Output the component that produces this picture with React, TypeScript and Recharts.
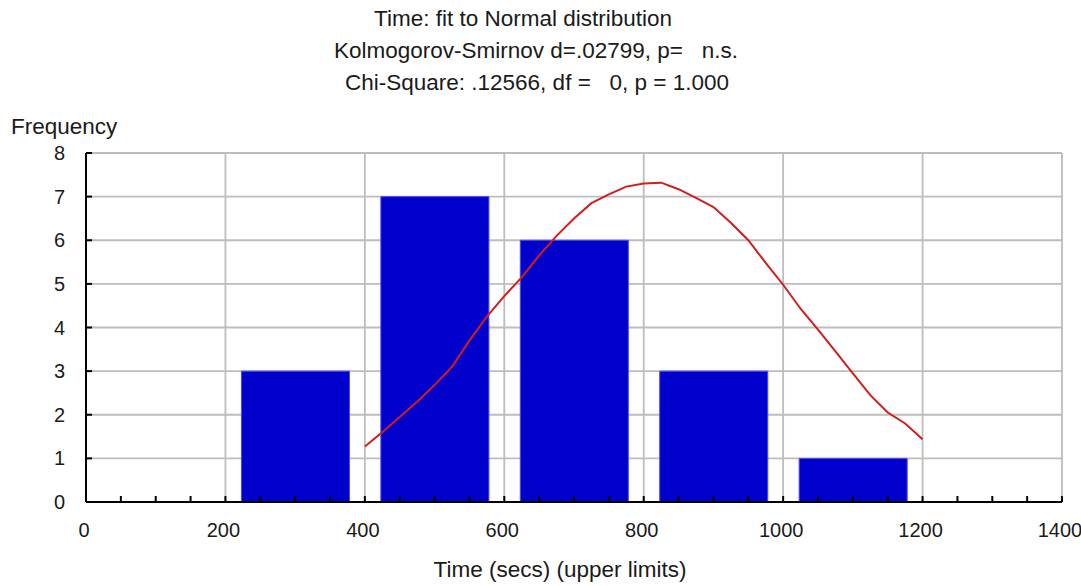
import {
  ComposedChart,
  Bar,
  Line,
  XAxis,
  YAxis,
  CartesianGrid,
} from 'recharts';

// histogram bins (centres of 200-sec classes) and counts
const binCenters = [300, 500, 700, 900, 1100];
const frequency = [3, 7, 6, 3, 1];

// fitted normal curve
const fitX = [
  400, 425, 450, 475, 500, 525, 550, 575, 600, 625, 650, 675, 700, 725, 750, 775, 800,
  825, 850, 875, 900, 925, 950, 975, 1000, 1025, 1050, 1075, 1100, 1125, 1150, 1175, 1200,
];
const fitY = [
  1.27, 1.6, 1.95, 2.3, 2.68, 3.1, 3.7, 4.25, 4.72, 5.15, 5.65, 6.1, 6.5, 6.85, 7.05, 7.23, 7.3,
  7.32, 7.17, 6.97, 6.76, 6.4, 6.0, 5.48, 4.98, 4.43, 3.95, 3.45, 2.95, 2.45, 2.05, 1.8, 1.44,
];

const xTicks = [
  0, 50, 100, 150, 200, 250, 300, 350, 400, 450, 500, 550, 600, 650, 700, 750, 800, 850,
  900, 950, 1000, 1050, 1100, 1150, 1200, 1250, 1300, 1350, 1400,
];
const xMajor = [0, 200, 400, 600, 800, 1000, 1200, 1400];
const yTicks = [0, 1, 2, 3, 4, 5, 6, 7, 8];

const titleLines = [
  'Time: fit to Normal distribution',
  'Kolmogorov-Smirnov d=.02799, p=   n.s.',
  'Chi-Square: .12566, df =   0, p = 1.000',
];

const W = 1081;
const H = 586;
const margin = { top: 153, right: 19, bottom: 0, left: 46 };
const plotW = W - margin.left - margin.right - 40;
const barWidthSecs = 155;

const bars = binCenters.map((x, i) => ({ x, freq: frequency[i] }));
const fit = fitX.map((x, i) => ({ x, fit: fitY[i] }));

const font = '"Liberation Sans", Arial, Helvetica, sans-serif';
const tickStyle = { fill: '#1a1a1a', fontSize: 20, fontFamily: font };
const frame = { stroke: '#000', strokeWidth: 2 };

export default function App() {
  return (
    <div style={{ position: 'absolute', left: 0, top: 0, width: W, height: H, background: '#fff', fontFamily: font, color: '#1a1a1a' }}>
      {titleLines.map((t, i) => (
        <div
          key={i}
          style={{
            position: 'absolute',
            left: [523, 536, 537][i] - 300,
            width: 600,
            top: 6 + i * 32,
            textAlign: 'center',
            fontSize: 22.5,
            whiteSpace: 'pre',
          }}
        >
          {t}
        </div>
      ))}
      <div style={{ position: 'absolute', left: 11, top: 114, fontSize: 22.5 }}>Frequency</div>
      <div style={{ position: 'absolute', left: 260, width: 600, top: 557, fontSize: 22.5, textAlign: 'center' }}>
        Time (secs) (upper limits)
      </div>
      <ComposedChart width={W} height={H} data={bars} margin={margin}>
        <CartesianGrid
          verticalValues={xMajor}
          horizontalValues={yTicks}
          stroke="#bdbdbd"
          strokeWidth={1.8}
        />
        <XAxis
          dataKey="x"
          type="number"
          domain={[0, 1400]}
          ticks={xTicks}
          interval={0}
          allowDataOverflow
          height={84}
          tickSize={-6}
          tickMargin={27}
          tickLine={frame}
          axisLine={frame}
          tick={{ ...tickStyle, dx: -2 }}
          tickFormatter={(v: number) => (v % 200 === 0 ? String(v) : '')}
        />
        <XAxis
          xAxisId="top"
          orientation="top"
          dataKey="x"
          type="number"
          domain={[0, 1400]}
          ticks={xTicks}
          interval={0}
          allowDataOverflow
          height={0}
          tickSize={-6}
          tick={false}
          tickLine={frame}
          axisLine={frame}
        />
        <YAxis
          type="number"
          domain={[0, 8]}
          ticks={yTicks}
          interval={0}
          width={40}
          tickSize={-6}
          tickMargin={27}
          tickLine={frame}
          axisLine={frame}
          tick={tickStyle}
        />
        <YAxis
          yAxisId="right"
          orientation="right"
          type="number"
          domain={[0, 8]}
          ticks={yTicks}
          interval={0}
          width={0}
          tickSize={-6}
          tick={false}
          tickLine={frame}
          axisLine={frame}
        />
        <Bar
          dataKey="freq"
          fill="#0000cc"
          stroke="#4a4aff"
          strokeWidth={1}
          barSize={(plotW * barWidthSecs) / 1400}
          isAnimationActive={false}
        />
        <Line
          data={fit}
          xAxisId="top"
          dataKey="fit"
          type="linear"
          stroke="#d41c1c"
          strokeWidth={2}
          dot={false}
          isAnimationActive={false}
        />
      </ComposedChart>
    </div>
  );
}
